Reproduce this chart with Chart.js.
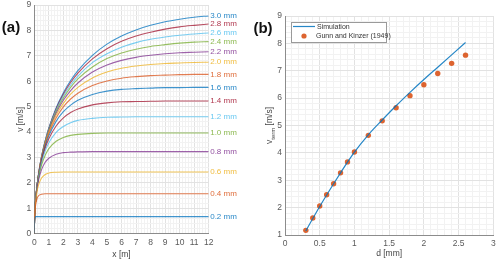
<!DOCTYPE html>
<html>
<head>
<meta charset="utf-8">
<script src="https://cdn.jsdelivr.net/npm/chart.js@4.4.1/dist/chart.umd.min.js"></script>
<style>
  html, body { margin: 0; padding: 0; background: #fff; }
  #wrap { position: relative; width: 500px; height: 261px; overflow: hidden; }
  canvas { position: absolute; top: 0; }
  #cA { left: 0; }
  #cB { left: 250px; }
</style>
</head>
<body>
<div id="wrap">
  <canvas id="cA" width="250" height="261"></canvas>
  <canvas id="cB" width="250" height="261"></canvas>
</div>
<script>
// ---- panel (a): v(x) for each drop diameter ----
const xPos = [0, 0.02, 0.05, 0.1, 0.2, 0.3, 0.5, 0.75, 1, 1.5, 2, 2.5, 3, 4, 5, 6, 7, 8, 9, 10, 11, 12];
const diamLabels = ['0.2', '0.4', '0.6', '0.8', '1.0', '1.2', '1.4', '1.6', '1.8', '2.0', '2.2', '2.4', '2.6', '2.8', '3.0'];

const vD02 = [0, 0.51, 0.63, 0.67, 0.67, 0.67, 0.67, 0.67, 0.67, 0.67, 0.67, 0.67, 0.67, 0.67, 0.67, 0.67, 0.67, 0.67, 0.67, 0.67, 0.67, 0.67];
const vD04 = [0, 0.60, 0.90, 1.16, 1.40, 1.50, 1.55, 1.57, 1.57, 1.57, 1.57, 1.57, 1.57, 1.57, 1.57, 1.57, 1.57, 1.57, 1.57, 1.57, 1.57, 1.57];
const vD06 = [0, 0.62, 0.95, 1.29, 1.69, 1.93, 2.19, 2.33, 2.39, 2.42, 2.43, 2.43, 2.43, 2.43, 2.43, 2.43, 2.43, 2.43, 2.43, 2.43, 2.43, 2.43];
const vD08 = [0, 0.62, 0.97, 1.34, 1.81, 2.12, 2.52, 2.81, 2.97, 3.13, 3.19, 3.21, 3.22, 3.23, 3.23, 3.23, 3.23, 3.23, 3.23, 3.23, 3.23, 3.23];
const vD10 = [0, 0.62, 0.98, 1.36, 1.86, 2.21, 2.70, 3.09, 3.35, 3.64, 3.79, 3.87, 3.91, 3.95, 3.96, 3.96, 3.96, 3.96, 3.96, 3.96, 3.96, 3.96];
const vD12 = [0, 0.62, 0.98, 1.37, 1.89, 2.27, 2.80, 3.26, 3.58, 3.99, 4.22, 4.37, 4.46, 4.54, 4.58, 4.59, 4.60, 4.60, 4.60, 4.60, 4.60, 4.60];
const vD14 = [0, 0.62, 0.98, 1.38, 1.91, 2.30, 2.87, 3.37, 3.74, 4.24, 4.56, 4.77, 4.91, 5.07, 5.15, 5.19, 5.20, 5.21, 5.22, 5.22, 5.22, 5.22];
const vD16 = [0, 0.62, 0.98, 1.38, 1.92, 2.32, 2.91, 3.45, 3.85, 4.42, 4.80, 5.06, 5.25, 5.48, 5.61, 5.68, 5.71, 5.73, 5.75, 5.75, 5.76, 5.76];
const vD18 = [0, 0.62, 0.98, 1.38, 1.93, 2.34, 2.95, 3.50, 3.93, 4.55, 4.99, 5.30, 5.53, 5.83, 6.01, 6.12, 6.18, 6.22, 6.24, 6.26, 6.27, 6.27];
const vD20 = [0, 0.63, 0.99, 1.39, 1.94, 2.35, 2.97, 3.55, 4.00, 4.66, 5.13, 5.49, 5.76, 6.13, 6.36, 6.51, 6.60, 6.66, 6.70, 6.72, 6.74, 6.75];
const vD22 = [0, 0.63, 0.99, 1.39, 1.94, 2.36, 2.99, 3.58, 4.04, 4.74, 5.25, 5.63, 5.93, 6.36, 6.64, 6.82, 6.94, 7.02, 7.08, 7.12, 7.14, 7.16];
const vD24 = [0, 0.63, 0.99, 1.39, 1.95, 2.37, 3.00, 3.61, 4.08, 4.81, 5.34, 5.76, 6.09, 6.56, 6.89, 7.11, 7.26, 7.37, 7.44, 7.50, 7.54, 7.56];
const vD26 = [0, 0.63, 0.99, 1.39, 1.95, 2.37, 3.02, 3.63, 4.11, 4.86, 5.42, 5.85, 6.20, 6.73, 7.08, 7.34, 7.52, 7.65, 7.74, 7.81, 7.86, 7.90];
const vD28 = [0, 0.63, 0.99, 1.39, 1.95, 2.38, 3.03, 3.64, 4.14, 4.91, 5.49, 5.95, 6.32, 6.88, 7.28, 7.57, 7.78, 7.93, 8.05, 8.14, 8.20, 8.25];
const vD30 = [0, 0.63, 0.99, 1.39, 1.96, 2.38, 3.04, 3.66, 4.16, 4.95, 5.55, 6.03, 6.42, 7.02, 7.46, 7.78, 8.02, 8.20, 8.34, 8.44, 8.52, 8.57];

const curves = [vD02, vD04, vD06, vD08, vD10, vD12, vD14, vD16, vD18, vD20, vD22, vD24, vD26, vD28, vD30];

// ---- panel (b): terminal velocity vs diameter ----
const simD = [0.3, 0.4, 0.5, 0.6, 0.7, 0.8, 0.9, 1.0, 1.2, 1.4, 1.6, 1.8, 2.0, 2.2, 2.4, 2.6];
const simV = [1.15, 1.60, 2.04, 2.46, 2.87, 3.27, 3.66, 4.03, 4.66, 5.20, 5.72, 6.21, 6.68, 7.13, 7.58, 8.03];
const gkD = [0.3, 0.4, 0.5, 0.6, 0.7, 0.8, 0.9, 1.0, 1.2, 1.4, 1.6, 1.8, 2.0, 2.2, 2.4, 2.6];
const gkV = [1.17, 1.62, 2.06, 2.47, 2.87, 3.27, 3.67, 4.03, 4.64, 5.17, 5.65, 6.09, 6.49, 6.90, 7.27, 7.57];

// matlab default colour order (lines drawn a bit translucent, like the washed-out original)
const palette = ['#0072BD', '#D95319', '#EDB120', '#7E2F8E', '#77AC30', '#4DBEEE', '#A2142F'];
const FONT = '"Liberation Sans", Arial, sans-serif';

function near(v, step) {
  return Math.abs(v / step - Math.round(v / step)) < 1e-6;
}

function fade(hex, a) {
  const n = parseInt(hex.slice(1), 16);
  return `rgba(${n >> 16}, ${(n >> 8) & 255}, ${n & 255}, ${a})`;
}

// linear axis with minor grid, labels only on major ticks
function axis(min, max, minor, major, pad, size, isY) {
  return {
    type: 'linear',
    min: min, max: max,
    afterBuildTicks: s => {
      const t = [];
      const n = Math.round((max - min) / minor);
      for (let i = 0; i <= n; i++) t.push({ value: +(min + i * minor).toFixed(4) });
      s.ticks = t;
    },
    afterFit: s => {
      if (isY) s.width = size; else s.height = size;
      s.paddingTop = 0; s.paddingBottom = 0; s.paddingLeft = 0; s.paddingRight = 0;
    },
    ticks: {
      autoSkip: false,
      maxRotation: 0,
      padding: pad,
      color: '#5a5a5a',
      font: { family: FONT, size: 8.5 },
      callback: v => near(v, major) ? String(+v.toFixed(2)) : ''
    },
    grid: {
      drawTicks: false,
      color: c => near(c.tick.value, major) ? '#e2e2e2' : '#f2f2f2',
      lineWidth: 1
    },
    border: { display: true, color: '#8c8c8c' }
  };
}

function txt(ctx, s, x, y, font, color, align, base) {
  ctx.save();
  ctx.font = font;
  ctx.fillStyle = color;
  ctx.textAlign = align || 'center';
  ctx.textBaseline = base || 'middle';
  ctx.fillText(s, x, y);
  ctx.restore();
}

const decorA = {
  id: 'decorA',
  afterDatasetsDraw(chart) {
    const ctx = chart.ctx;
    const a = chart.chartArea;
    const ys = chart.scales.y;
    // end-of-line diameter labels
    curves.forEach((arr, i) => {
      const py = ys.getPixelForValue(arr[arr.length - 1]);
      txt(ctx, diamLabels[i] + ' mm', a.right + 1.5, py, '8px ' + FONT, fade(palette[i % 7], 0.85), 'left');
    });
    txt(ctx, '(a)', 11, 28, 'bold 15px ' + FONT, '#111');
    txt(ctx, 'x [m]', (a.left + a.right) / 2, 255, '8.5px ' + FONT, '#444');
    ctx.save();
    ctx.translate(21, (a.top + a.bottom) / 2);
    ctx.rotate(-Math.PI / 2);
    txt(ctx, 'v [m/s]', 0, 0, '8.5px ' + FONT, '#444');
    ctx.restore();
  }
};

const decorB = {
  id: 'decorB',
  afterDatasetsDraw(chart) {
    const ctx = chart.ctx;
    const a = chart.chartArea;
    txt(ctx, '(b)', 13, 29, 'bold 15px ' + FONT, '#111');
    txt(ctx, 'd [mm]', (a.left + a.right) / 2, 254, '8.5px ' + FONT, '#444');

    // y title with subscript
    ctx.save();
    ctx.translate(20, (a.top + a.bottom) / 2);
    ctx.rotate(-Math.PI / 2);
    ctx.fillStyle = '#444';
    ctx.textBaseline = 'middle';
    ctx.font = '8.5px ' + FONT;
    const w1 = ctx.measureText('v').width;
    const w3 = ctx.measureText(' [m/s]').width;
    ctx.font = '6px ' + FONT;
    const w2 = ctx.measureText('term').width;
    let x0 = -(w1 + w2 + w3) / 2;
    ctx.font = '8.5px ' + FONT;
    ctx.fillText('v', x0, 0);
    ctx.font = '6px ' + FONT;
    ctx.fillText('term', x0 + w1, 3);
    ctx.font = '8.5px ' + FONT;
    ctx.fillText(' [m/s]', x0 + w1 + w2, 0);
    ctx.restore();

    // legend box inside the axes
    ctx.save();
    ctx.fillStyle = '#fff';
    ctx.strokeStyle = '#9a9a9a';
    ctx.lineWidth = 1;
    ctx.fillRect(41, 22, 95, 20);
    ctx.strokeRect(41.5, 22.5, 95, 20);
    ctx.strokeStyle = fade(palette[0], 0.85);
    ctx.lineWidth = 1.2;
    ctx.beginPath();
    ctx.moveTo(43, 26.5);
    ctx.lineTo(65, 26.5);
    ctx.stroke();
    ctx.fillStyle = fade(palette[1], 0.9);
    ctx.beginPath();
    ctx.arc(54, 36, 2.6, 0, Math.PI * 2);
    ctx.fill();
    ctx.restore();
    txt(ctx, 'Simulation', 67, 27, '7px ' + FONT, '#333', 'left');
    txt(ctx, 'Gunn and Kinzer (1949)', 66, 36.5, '7px ' + FONT, '#333', 'left');
  }
};

new Chart(document.getElementById('cA'), {
  type: 'line',
  data: {
    datasets: curves.map((arr, i) => ({
      label: diamLabels[i] + ' mm',
      data: xPos.map((x, j) => ({ x: x, y: arr[j] })),
      borderColor: fade(palette[i % 7], 0.75),
      borderWidth: 1.1,
      pointRadius: 0,
      cubicInterpolationMode: 'monotone',
      fill: false
    }))
  },
  options: {
    responsive: false,
    animation: false,
    devicePixelRatio: 1,
    layout: { padding: { top: 5, right: 41.3, left: 0, bottom: 0 } },
    plugins: { legend: { display: false }, tooltip: { enabled: false } },
    scales: {
      x: axis(0, 12, 0.2, 1, 4, 27.3, false),
      y: axis(0, 9, 0.2, 1, 3, 34.3, true)
    }
  },
  plugins: [decorA]
});

new Chart(document.getElementById('cB'), {
  type: 'line',
  data: {
    datasets: [
      {
        label: 'Simulation',
        data: simD.map((d, i) => ({ x: d, y: simV[i] })),
        borderColor: fade(palette[0], 0.85),
        borderWidth: 1.2,
        pointRadius: 0,
        cubicInterpolationMode: 'monotone',
        fill: false
      },
      {
        label: 'Gunn and Kinzer (1949)',
        data: gkD.map((d, i) => ({ x: d, y: gkV[i] })),
        showLine: false,
        pointRadius: 2.7,
        pointBackgroundColor: fade(palette[1], 0.9),
        pointBorderWidth: 0
      }
    ]
  },
  options: {
    responsive: false,
    animation: false,
    devicePixelRatio: 1,
    layout: { padding: { top: 16, right: 6.7, left: 0, bottom: 0 } },
    plugins: { legend: { display: false }, tooltip: { enabled: false } },
    scales: {
      x: axis(0, 3, 0.1, 0.5, 4, 26, false),
      y: axis(1, 9, 0.2, 1, 3, 35, true)
    }
  },
  plugins: [decorB]
});
</script>
</body>
</html>
